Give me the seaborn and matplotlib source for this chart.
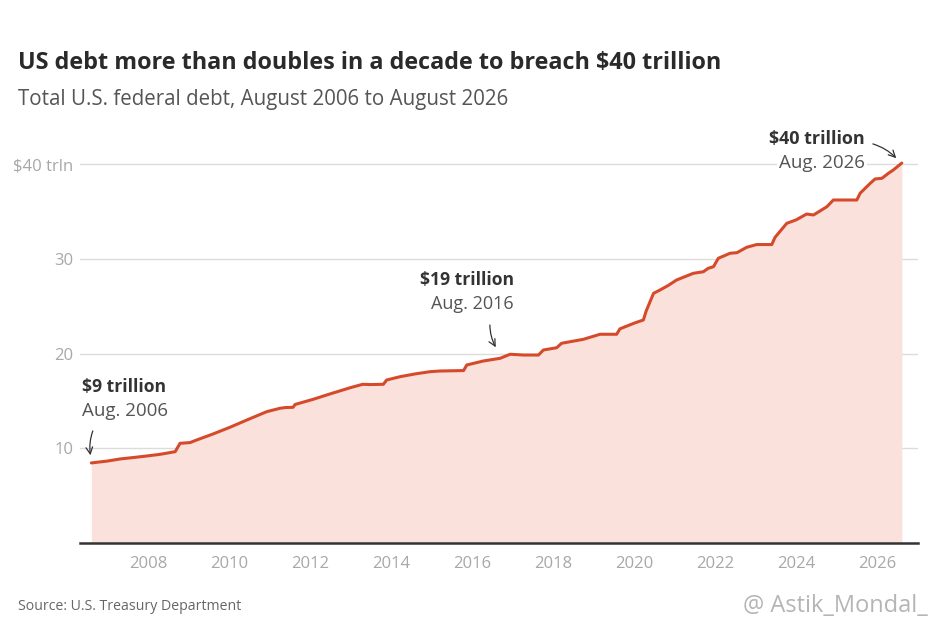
import matplotlib
matplotlib.use("Agg")
import matplotlib.pyplot as plt
import seaborn as sns
import pandas as pd

# ---- data ----
years = [2006.60, 2007.00, 2007.31, 2007.70, 2008.00, 2008.30, 2008.67, 2008.79, 2009.04, 2009.20,
         2009.60, 2010.02, 2010.45, 2010.93, 2011.26, 2011.40, 2011.58, 2011.63, 2012.08, 2012.49,
         2013.00, 2013.30, 2013.48, 2013.81, 2013.89, 2014.22, 2014.60, 2014.96, 2015.20, 2015.79,
         2015.87, 2016.28, 2016.69, 2016.94, 2017.27, 2017.64, 2017.76, 2018.09, 2018.21, 2018.75,
         2019.16, 2019.57, 2019.65, 2020.00, 2020.23, 2020.30, 2020.48, 2020.64, 2020.85, 2021.05,
         2021.46, 2021.71, 2021.83, 2021.96, 2022.08, 2022.37, 2022.54, 2022.78, 2023.03, 2023.40,
         2023.48, 2023.77, 2024.00, 2024.26, 2024.43, 2024.76, 2024.92, 2025.50, 2025.58, 2025.83,
         2025.95, 2026.12, 2026.28, 2026.40, 2026.61]
debt = [8.45, 8.65, 8.87, 9.05, 9.20, 9.36, 9.64, 10.52, 10.60, 10.87,
        11.50, 12.21, 13.00, 13.86, 14.22, 14.30, 14.32, 14.62, 15.17, 15.73,
        16.40, 16.75, 16.72, 16.75, 17.20, 17.55, 17.85, 18.08, 18.15, 18.20,
        18.79, 19.21, 19.49, 19.92, 19.84, 19.84, 20.37, 20.61, 21.08, 21.50,
        22.03, 22.03, 22.60, 23.20, 23.54, 24.50, 26.35, 26.70, 27.20, 27.76,
        28.46, 28.63, 28.99, 29.16, 30.05, 30.58, 30.64, 31.21, 31.50, 31.50,
        32.26, 33.74, 34.10, 34.72, 34.62, 35.49, 36.20, 36.20, 36.91, 37.96,
        38.42, 38.49, 39.02, 39.37, 40.10]
x_ticks = [2008, 2010, 2012, 2014, 2016, 2018, 2020, 2022, 2024, 2026]
y_ticks = [10, 20, 30, 40]
y_labels = ["10", "20", "30", "$40 trln"]

df = pd.DataFrame({"year": years, "debt": debt})

sns.set_theme(style="white")
plt.rcParams["font.family"] = ["Open Sans", "DejaVu Sans"]

LINE = "#d64a2c"
FILL = "#fbe1db"
GRID = "#dcdcdc"
TICK = "#a8a8a8"
DARK = "#333333"
MID = "#555555"

fig = plt.figure(figsize=(9.35, 6.31), dpi=100)
ax = fig.add_axes([80 / 935, (631 - 543) / 631, (918 - 80) / 935, 42 * 9.475 / 631])

ax.fill_between(df["year"], 0, df["debt"], color=FILL, lw=0, zorder=1)
sns.lineplot(data=df, x="year", y="debt", ax=ax, color=LINE, lw=2.2, zorder=3)

ax.set_xlim(2006.32, 2027.01)
ax.set_ylim(0, 42)
ax.set_xticks(x_ticks)
ax.set_xticklabels([str(t) for t in x_ticks])
ax.set_yticks(y_ticks)
ax.set_yticklabels(y_labels)
ax.tick_params(axis="both", length=0, labelsize=12, labelcolor=TICK)
ax.tick_params(axis="x", pad=9)
ax.tick_params(axis="y", pad=5)
ax.set_xlabel("")
ax.set_ylabel("")
for y in y_ticks:
    ax.axhline(y, color=GRID, lw=1, zorder=0.5)
for s in ["top", "right", "left"]:
    ax.spines[s].set_visible(False)
ax.spines["bottom"].set_color(DARK)
ax.spines["bottom"].set_linewidth(1.8)
ax.spines["bottom"].set_zorder(4)

# annotations
ax.text(2006.37, 16.46, "$9 trillion", fontsize=12.6, fontweight="bold", color=DARK,
        ha="left", va="center")
ax.text(2006.37, 13.93, "Aug. 2006", fontsize=13.5, color=MID, ha="left", va="center")
ax.annotate("", xy=(2006.59, 8.97), xytext=(2006.66, 12.1),
            arrowprops=dict(arrowstyle="->", color=DARK, lw=0.9,
                            connectionstyle="arc3,rad=0.15"))

ax.text(2015.88, 27.76, "$19 trillion", fontsize=12.6, fontweight="bold", color=DARK,
        ha="center", va="center")
ax.text(2016.0, 25.22, "Aug. 2016", fontsize=13, color=MID, ha="center", va="center")
ax.annotate("", xy=(2016.62, 20.4), xytext=(2016.44, 23.3),
            arrowprops=dict(arrowstyle="->", color=DARK, lw=0.9,
                            connectionstyle="arc3,rad=0.15"))

ax.text(2025.70, 42.64, "$40 trillion", fontsize=13, fontweight="bold", color=DARK,
        ha="right", va="center", clip_on=False)
ax.text(2025.70, 40.1, "Aug. 2026", fontsize=13.5, color=MID, ha="right", va="center",
        bbox=dict(facecolor="white", edgecolor="none", pad=1.5), zorder=5)
ax.annotate("", xy=(2026.52, 40.4), xytext=(2025.83, 42.2),
            arrowprops=dict(arrowstyle="->", color=DARK, lw=0.9,
                            connectionstyle="arc3,rad=-0.15"),
            annotation_clip=False)

fig.text(18 / 935, 1 - 63 / 631, "US debt more than doubles in a decade to breach $40 trillion",
         fontsize=16.8, fontweight="bold", color="#2a2a2a", ha="left", va="center")
fig.text(18 / 935, 1 - 99 / 631, "Total U.S. federal debt, August 2006 to August 2026",
         fontsize=14.8, color=MID, ha="left", va="center")
fig.text(18 / 935, 1 - 606 / 631, "Source: U.S. Treasury Department",
         fontsize=10.2, color="#666666", ha="left", va="center")
fig.text(928 / 935, 1 - 606 / 631, "@ Astik_Mondal_",
         fontsize=17, color="#b5b5b5", ha="right", va="center")

fig.savefig("out.png", dpi=100, facecolor="white")
